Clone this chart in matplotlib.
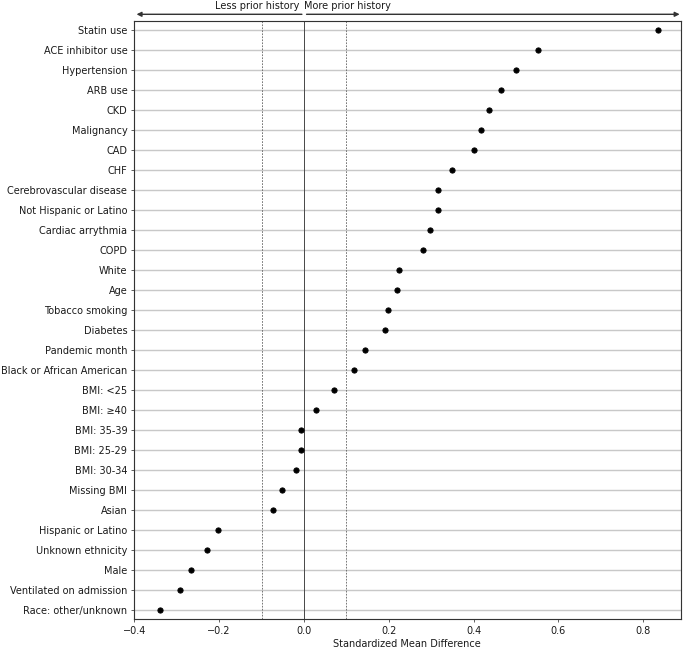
import matplotlib
matplotlib.use("Agg")
import matplotlib.pyplot as plt
import matplotlib.transforms as mtransforms

# Covariates (top to bottom) and standardized mean differences
covariates = [
    "Statin use", "ACE inhibitor use", "Hypertension", "ARB use", "CKD",
    "Malignancy", "CAD", "CHF", "Cerebrovascular disease",
    "Not Hispanic or Latino", "Cardiac arrythmia", "COPD", "White", "Age",
    "Tobacco smoking", "Diabetes", "Pandemic month",
    "Black or African American", "BMI: <25", "BMI: \u226540", "BMI: 35-39",
    "BMI: 25-29", "BMI: 30-34", "Missing BMI", "Asian",
    "Hispanic or Latino", "Unknown ethnicity", "Male",
    "Ventilated on admission", "Race: other/unknown",
]
smd = [
    0.834, 0.551, 0.501, 0.465, 0.436,
    0.417, 0.402, 0.350, 0.317,
    0.315, 0.297, 0.280, 0.224, 0.220,
    0.198, 0.190, 0.143,
    0.118, 0.071, 0.029, -0.006,
    -0.006, -0.018, -0.053, -0.074,
    -0.204, -0.229, -0.267,
    -0.292, -0.340,
]
xticks = [-0.4, -0.2, 0.0, 0.2, 0.4, 0.6, 0.8]
threshold = 0.1

FS = 10.3
TXT = "#1a1a1a"

fig = plt.figure(figsize=(10, 648 / 68.5), dpi=68.5)
ax = fig.add_axes([134 / 685, 1 - 619 / 648, (680.5 - 134) / 685, (619 - 20.7) / 648])

n = len(covariates)
ypos = list(range(n - 1, -1, -1))

ax.scatter(smd, ypos, s=30, color="black", zorder=3)

ax.set_yticks(ypos)
ax.set_yticklabels(covariates, fontsize=FS, color=TXT)
ax.yaxis.grid(True, color="#c8c8c8", linewidth=1.5)
ax.set_axisbelow(True)

ax.axvline(0, color="#444444", linewidth=1.0, zorder=1)
ax.axvline(-threshold, color="#666666", linewidth=0.9, linestyle=(0, (2, 1.5)), zorder=1)
ax.axvline(threshold, color="#666666", linewidth=0.9, linestyle=(0, (2, 1.5)), zorder=1)

ax.set_xlim(-0.401, 0.888)
ax.set_ylim(-0.45, n - 1 + 0.45)
ax.set_xticks(xticks)
ax.set_xticklabels([f"{t:.1f}".replace("-", "\u2212") for t in xticks], fontsize=FS, color=TXT)
ax.set_xlabel("Standardized Mean Difference", fontsize=FS, labelpad=4, color=TXT)
ax.tick_params(colors="#333333", labelcolor=TXT)

for sp in ax.spines.values():
    sp.set_color("#333333")
    sp.set_linewidth(1.2)

trans = mtransforms.blended_transform_factory(ax.transData, ax.transAxes)
ay = 1 + (20.7 - 14.3) / (619 - 20.7)
ty = 1 + (20.7 - 5.5) / (619 - 20.7)
ax.annotate("", xy=(-0.395, ay), xytext=(-0.005, ay), xycoords=trans, textcoords=trans,
            arrowprops=dict(arrowstyle="-|>", color="#333333", lw=1.5, mutation_scale=10,
                            shrinkA=0, shrinkB=0), annotation_clip=False)
ax.annotate("", xy=(0.886, ay), xytext=(0.006, ay), xycoords=trans, textcoords=trans,
            arrowprops=dict(arrowstyle="-|>", color="#333333", lw=1.5, mutation_scale=10,
                            shrinkA=0, shrinkB=0), annotation_clip=False)
ax.text(-0.012, ty, "Less prior history", transform=trans, ha="right", va="center",
        fontsize=FS, color=TXT)
ax.text(0.0, ty, "More prior history", transform=trans, ha="left", va="center",
        fontsize=FS, color=TXT)

fig.savefig("out.png", dpi=68.5)
